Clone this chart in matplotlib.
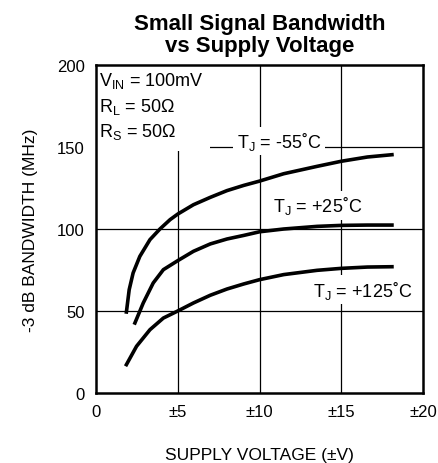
import numpy as np
import matplotlib.pyplot as plt
from matplotlib.patches import Rectangle

plt.rcParams['font.family'] = ['Liberation Sans', 'DejaVu Sans']

# curves (supply voltage in ±V, bandwidth in MHz)
v_m55 = [1.86, 2.03, 2.27, 2.68, 3.3, 3.91, 4.53, 5, 5.96, 6.99, 8.01, 9.04, 10,
         11.48, 13.52, 15, 16.6, 18.1]
bw_m55 = [49.4, 63, 73.2, 83.3, 93.5, 100, 105.7, 109.1, 114.8, 119.3, 123.4, 126.6, 129.2,
          133.7, 138.2, 141.3, 143.9, 145.3]

v_p25 = [2.38, 2.89, 3.5, 4.12, 5, 5.96, 6.99, 8.01, 9.04, 10, 11.48, 13.52, 15, 16.6, 18.1]
bw_p25 = [42.7, 54.9, 67.1, 75.2, 80.7, 86.4, 90.9, 93.9, 96.1, 98.3, 100, 101.6, 102.2, 102.4, 102.4]

v_p125 = [1.86, 2.48, 3.3, 4.12, 5, 5.96, 6.99, 8.01, 9.04, 10, 11.48, 13.52, 15, 16.6, 18.1]
bw_p125 = [17.3, 28.5, 38.6, 45.7, 50, 54.9, 59.6, 63.4, 66.5, 69.1, 72.2, 74.8, 76, 76.8, 77]

xticks = [0, 5, 10, 15, 20]
xticklabels = ['0', '±5', '±10', '±15', '±20']
yticks = [0, 50, 100, 150, 200]

fig = plt.figure(figsize=(4.38, 4.64), dpi=100)
ax = fig.add_axes([96 / 438, 70 / 464, 327 / 438, 328 / 464])

for x in [5, 10, 15]:
    ax.axvline(x, color='black', lw=0.9, zorder=1)
for y in [50, 100, 150]:
    ax.axhline(y, color='black', lw=0.9, zorder=1)

# white block behind the conditions text
ax.add_patch(Rectangle((0, 147.5), 6.95, 52.5, facecolor='white', edgecolor='none', zorder=2))

ax.plot(v_m55, bw_m55, color='black', lw=2.6, zorder=3)
ax.plot(v_p25, bw_p25, color='black', lw=2.6, zorder=3)
ax.plot(v_p125, bw_p125, color='black', lw=2.6, zorder=3)

box = dict(facecolor='white', edgecolor='none', pad=2.5)
ax.text(8.6, 150, r'T$_\mathregular{J}$ = -55˚C', fontsize=13, va='baseline', ha='left', bbox=box, zorder=2)
ax.text(10.85, 110.8, r'T$_\mathregular{J}$ = +25˚C', fontsize=13, va='baseline', ha='left', bbox=box, zorder=2)
ax.text(13.25, 59.3, r'T$_\mathregular{J}$ = +125˚C', fontsize=13, va='baseline', ha='left', bbox=box, zorder=2)

ax.text(0.2, 187.8, r'V$_\mathregular{IN}$ = 100mV', fontsize=13, va='baseline', ha='left', zorder=4)
ax.text(0.2, 172.1, r'R$_\mathregular{L}$ = 50Ω', fontsize=13, va='baseline', ha='left', zorder=4)
ax.text(0.2, 156.5, r'R$_\mathregular{S}$ = 50Ω', fontsize=13, va='baseline', ha='left', zorder=4)

ax.set_xlim(0, 20)
ax.set_ylim(0, 200)
ax.set_xticks(xticks)
ax.set_xticklabels(xticklabels)
ax.set_yticks(yticks)
ax.tick_params(length=0, labelsize=12, pad=8)
for s in ax.spines.values():
    s.set_linewidth(1.8)

ax.set_xlabel('SUPPLY VOLTAGE (±V)', fontsize=12.5, labelpad=20)
ax.set_ylabel('-3 dB BANDWIDTH (MHz)', fontsize=12.5, labelpad=14)
ax.set_title('Small Signal Bandwidth\nvs Supply Voltage', fontsize=16, fontweight='bold',
             linespacing=1.05, pad=10)

fig.savefig('out.png', dpi=100)
